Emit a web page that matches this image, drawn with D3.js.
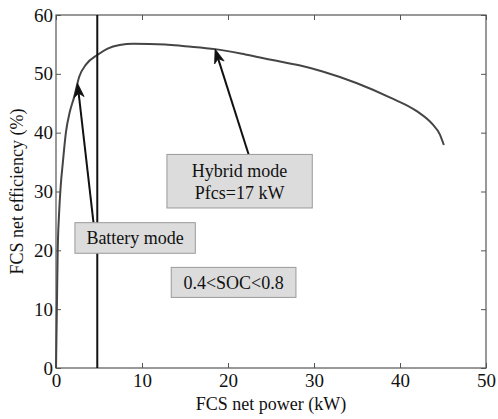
<!DOCTYPE html>
<html>
<head>
<meta charset="utf-8">
<script src="https://cdn.jsdelivr.net/npm/d3@7"></script>
<style>
  html, body { margin: 0; padding: 0; background: #fff; }
  svg text { font-family: "Liberation Serif", "Times New Roman", serif; fill: #111; }
</style>
</head>
<body>
<svg id="chart" width="498" height="419"></svg>
<script>
// Fuel cell system net efficiency (%) versus net power (kW)
const powerKW = [0, 0.05, 0.1, 0.2, 0.35, 0.55, 0.8, 1.15, 1.6, 2.1, 2.7, 3.5, 4.8, 6.0, 7.4, 9.0,
                 12.7, 15.0, 18.5, 22.0, 25.0, 28.4, 31.0, 35.0, 38.8, 41.9, 43.8, 44.6, 45.1];
const efficiencyPct = [0, 5, 10, 20, 26, 31, 35, 40, 43.5, 46, 49.5, 51.6, 53.2, 54.3, 54.9, 55.1,
                       55.0, 54.7, 54.2, 53.3, 52.4, 51.4, 50.4, 48.4, 46.0, 43.7, 41.4, 39.8, 37.9];

const xTicks = [0, 10, 20, 30, 40, 50];
const yTicks = [0, 10, 20, 30, 40, 50, 60];

// Mode boundary (battery-only below this power)
const modeBoundaryKW = 4.8;

// Annotations: text lines, box extent in data units, arrow tail/tip
const boxes = [
  { lines: ["Hybrid mode", "Pfcs=17 kW"], x0: 12.9, x1: 29.8, y0: 36.3, y1: 27.2 },
  { lines: ["Battery mode"],              x0: 2.2,  x1: 16.2, y0: 24.7, y1: 19.5 },
  { lines: ["0.4<SOC<0.8"],               x0: 13.4, x1: 27.9, y0: 17.1, y1: 12.0 }
];
const arrows = [
  { from: [22.4, 36.3], to: [18.5, 54.2] },
  { from: [4.36, 24.7], to: [2.5, 48.4] }
];

const svg = d3.select("#chart");
const margin = { left: 56, top: 15, right: 12, bottom: 51 };
const W = 498, H = 419;
const x = d3.scaleLinear().domain([0, 50]).range([margin.left, W - margin.right]);
const y = d3.scaleLinear().domain([0, 60]).range([H - margin.bottom, margin.top]);

const axisColor = "#555";
const tickLen = 5;

// Frame
svg.append("rect")
  .attr("x", x(0)).attr("y", y(60))
  .attr("width", x(50) - x(0)).attr("height", y(0) - y(60))
  .attr("fill", "none").attr("stroke", axisColor).attr("stroke-width", 1.2);

// Inward ticks on all four sides
const fmt = d3.format("d");
const bottomAxis = d3.axisBottom(x).tickValues(xTicks).tickSize(-tickLen).tickPadding(6).tickFormat(fmt);
const topAxis = d3.axisTop(x).tickValues(xTicks).tickSize(-tickLen).tickFormat("");
const leftAxis = d3.axisLeft(y).tickValues(yTicks).tickSize(-tickLen).tickPadding(3).tickFormat(fmt);
const rightAxis = d3.axisRight(y).tickValues(yTicks).tickSize(-tickLen).tickFormat("");

function styleAxis(g) {
  g.select(".domain").remove();
  g.selectAll(".tick line").attr("stroke", axisColor).attr("stroke-width", 1);
  g.selectAll(".tick text")
    .attr("font-family", "'Liberation Serif', 'Times New Roman', serif")
    .attr("font-size", 19).attr("fill", "#111");
}

svg.append("g").attr("transform", `translate(0,${y(0)})`).call(bottomAxis).call(styleAxis);
svg.append("g").attr("transform", `translate(0,${y(60)})`).call(topAxis).call(styleAxis);
svg.append("g").attr("transform", `translate(${x(0)},0)`).call(leftAxis).call(styleAxis);
svg.append("g").attr("transform", `translate(${x(50)},0)`).call(rightAxis).call(styleAxis);

// Axis titles
svg.append("text")
  .attr("x", (x(0) + x(50)) / 2).attr("y", 410)
  .attr("text-anchor", "middle").attr("font-size", 18)
  .text("FCS net power (kW)");
svg.append("text")
  .attr("transform", `translate(23,${(y(0) + y(60)) / 2}) rotate(-90)`)
  .attr("text-anchor", "middle").attr("font-size", 18)
  .text("FCS net efficiency (%)");

// Efficiency curve
const line = d3.line().x((d, i) => x(powerKW[i])).y(d => y(d)).curve(d3.curveMonotoneX);
svg.append("path")
  .attr("d", line(efficiencyPct))
  .attr("fill", "none").attr("stroke", "#454545").attr("stroke-width", 2);

// Battery / hybrid mode boundary
svg.append("line")
  .attr("x1", x(modeBoundaryKW)).attr("x2", x(modeBoundaryKW))
  .attr("y1", y(0)).attr("y2", y(60))
  .attr("stroke", "#111").attr("stroke-width", 2);

// Arrows with notched filled heads
arrows.forEach(a => {
  const x1 = x(a.from[0]), y1 = y(a.from[1]);
  const x2 = x(a.to[0]), y2 = y(a.to[1]);
  const ang = Math.atan2(y2 - y1, x2 - x1);
  const L = 14, Wd = 5, notch = 10;
  const bx = x2 - L * Math.cos(ang), by = y2 - L * Math.sin(ang);
  const nx = x2 - notch * Math.cos(ang), ny = y2 - notch * Math.sin(ang);
  const px = -Math.sin(ang), py = Math.cos(ang);
  svg.append("line")
    .attr("x1", x1).attr("y1", y1).attr("x2", nx).attr("y2", ny)
    .attr("stroke", "#111").attr("stroke-width", 2);
  svg.append("path")
    .attr("d", `M${x2},${y2} L${bx + px * Wd},${by + py * Wd} L${nx},${ny} L${bx - px * Wd},${by - py * Wd} Z`)
    .attr("fill", "#111").attr("stroke", "#111").attr("stroke-width", 0.8);
});

// Annotation boxes
boxes.forEach(b => {
  const bx = x(b.x0), by = y(b.y0), bw = x(b.x1) - x(b.x0), bh = y(b.y1) - y(b.y0);
  svg.append("rect")
    .attr("x", bx).attr("y", by).attr("width", bw).attr("height", bh)
    .attr("fill", "#dcdcdc").attr("stroke", "#9a9a9a").attr("stroke-width", 1);
  const lh = 22;
  const cy = by + bh / 2 - (b.lines.length - 1) * lh / 2;
  b.lines.forEach((t, i) => {
    svg.append("text")
      .attr("x", bx + bw / 2).attr("y", cy + i * lh)
      .attr("dy", "0.35em").attr("text-anchor", "middle").attr("font-size", 18)
      .text(t);
  });
});
</script>
</body>
</html>
